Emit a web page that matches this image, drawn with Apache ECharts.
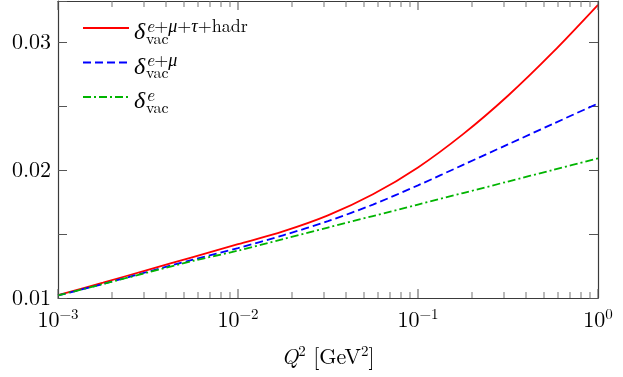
<!DOCTYPE html>
<html><head><meta charset="utf-8">
<script src="https://cdn.jsdelivr.net/npm/echarts@6/dist/echarts.min.js"></script>
<style>html,body{margin:0;padding:0;background:#fff}#c{width:623px;height:377px}</style>
</head><body><div id="c"></div>
<script>
// ---- data ----
const q2 = [0.001, 0.00178, 0.00316, 0.00562, 0.01, 0.0178, 0.0316, 0.0562, 0.1, 0.178, 0.316, 0.562, 1];
const deltaAll = [0.01022, 0.0112, 0.0122, 0.0132, 0.0142, 0.0152, 0.01645, 0.0181, 0.0202, 0.0228, 0.0258, 0.0292, 0.0329];
const deltaEMu = [0.0102, 0.0111, 0.01205, 0.0130, 0.0139, 0.0149, 0.0160, 0.0173, 0.0188, 0.0204, 0.0220, 0.0236, 0.0252];
const deltaE   = [0.0102, 0.0111, 0.0120, 0.0129, 0.0137, 0.0146, 0.0155, 0.0164, 0.0173, 0.0182, 0.0191, 0.0200, 0.0209];
const seriesNames = ['all', 'emu', 'e'];
const supTexts = {all: ['e', '+', 'μ', '+', 'τ', '+', 'hadr'], emu: ['e', '+', 'μ'], e: ['e']};
const xMajorTicks = [0.001, 0.01, 0.1, 1];
const xMinorTicks = [0.002,0.003,0.004,0.005,0.006,0.007,0.008,0.009,
                     0.02,0.03,0.04,0.05,0.06,0.07,0.08,0.09,
                     0.2,0.3,0.4,0.5,0.6,0.7,0.8,0.9];
const yMin = 0.01, yMax = 0.0332, yStep = 0.005;
const yLabelValues = [0.01, 0.02, 0.03];

const FONT = "'Latin Modern Roman','Liberation Serif',serif";
const chart = echarts.init(document.getElementById('c'), null, {renderer: 'canvas'});
const frame = {show: true, onZero: false, lineStyle: {color: '#3a3a3a', width: 1.2}};
const majorTick = {show: true, inside: true, length: 9, lineStyle: {color: '#555', width: 1}};

function supRich(name) {
  const parts = supTexts[name];
  const isItalic = t => !(t === '+' || t === 'hadr');
  return parts.map(t => (isItalic(t) ? '{si|' : '{sr|') + t + '}').join('');
}
function legendLabel(name) {
  return '{g|}' + supRich(name) + '\n{d|δ}{sub|vac}';
}
function xLabel(v) {
  return '{b|10}{s|' + String(Math.round(Math.log10(v))).replace('-', '−') + '}';
}

const colors = {all: '#ff0000', emu: '#0000ff', e: '#00b400'};
const dashes = {all: 'solid', emu: [8, 4], e: [8, 3, 2, 3]};
const dataSets = {all: deltaAll, emu: deltaEMu, e: deltaE};

const lineSeries = seriesNames.map(n => ({
  name: n, type: 'line', xAxisIndex: 0, yAxisIndex: 0,
  symbol: 'none', smooth: 0.3,
  lineStyle: {color: colors[n], width: 1.8, type: dashes[n]},
  itemStyle: {color: colors[n]},
  data: q2.map((x, i) => [x, dataSets[n][i]])
}));

// x-axis ticks (bottom and top, pointing inward) placed through the log scale
function tickSeries(values, len, color) {
  return {
    type: 'custom', xAxisIndex: 0, yAxisIndex: 0, z: 10,
    data: values.map(v => [v, yMin]),
    renderItem: (params, api) => {
      const b = api.coord([api.value(0), yMin]);
      const t = api.coord([api.value(0), yMax]);
      return {type: 'group', children: [
        {type: 'rect', shape: {x: Math.round(b[0]) - 0.5, y: b[1] - len, width: 1, height: len}, style: {fill: color}},
        {type: 'rect', shape: {x: Math.round(t[0]) - 0.5, y: t[1], width: 1, height: len}, style: {fill: color}}
      ]};
    }
  };
}

const option = {
  animation: false,
  backgroundColor: '#fff',
  grid: {left: 58, right: 25, top: 1, bottom: 79},
  legend: {
    left: 82, top: 1, padding: 0, orient: 'vertical', itemWidth: 46, itemHeight: 14, itemGap: -12.5,
    data: seriesNames,
    formatter: legendLabel,
    itemStyle: {color: 'rgba(0,0,0,0)', borderWidth: 0, opacity: 0},
    textStyle: {
      fontFamily: FONT, color: '#000',
      rich: {
        g: {width: 12, lineHeight: 12},
        si: {fontFamily: FONT, fontStyle: 'italic', fontSize: 18, lineHeight: 12, padding: [16, 0, 0, 0]},
        sr: {fontFamily: FONT, fontSize: 18, lineHeight: 12, padding: [16, 0, 0, 0]},
        d: {fontFamily: FONT, fontStyle: 'italic', fontSize: 24, width: 12, lineHeight: 20, padding: [0, 0, 4, 0]},
        sub: {fontFamily: FONT, fontSize: 16, lineHeight: 20, padding: [10, 0, 0, 0]}
      }
    }
  },
  xAxis: [
    {type: 'log', position: 'bottom', min: 0.001, max: 1,
     axisLine: frame, axisTick: {show: false}, splitLine: {show: false},
     axisLabel: {margin: 10, fontFamily: FONT, color: '#000',
       formatter: xLabel,
       rich: {b: {fontFamily: FONT, fontSize: 22, lineHeight: 24},
              s: {fontFamily: FONT, fontSize: 15, lineHeight: 24, padding: [0, 0, 12, 0]}}},
     name: '{qi|Q}{s|2} [GeV{s|2}]', nameLocation: 'middle', nameGap: 47,
     nameTextStyle: {fontFamily: FONT, color: '#000', fontSize: 22, verticalAlign: 'top',
       rich: {qi: {fontFamily: FONT, fontStyle: 'italic', fontSize: 22, lineHeight: 24},
              s: {fontFamily: FONT, fontSize: 15, lineHeight: 24, padding: [0, 0, 12, 0]}}}},
    {type: 'log', position: 'top', min: 0.001, max: 1,
     axisLine: frame, axisTick: {show: false}, axisLabel: {show: false}, splitLine: {show: false}}
  ],
  yAxis: [
    {type: 'value', position: 'left', min: yMin, max: yMax, interval: yStep,
     axisLine: frame, axisTick: majorTick, splitLine: {show: false},
     axisLabel: {margin: 7, fontFamily: FONT, fontSize: 22, color: '#000',
       formatter: v => yLabelValues.some(t => Math.abs(t - v) < 1e-9) ? v.toFixed(2) : ''}},
    {type: 'value', position: 'right', min: yMin, max: yMax, interval: yStep,
     axisLine: frame, axisTick: majorTick, splitLine: {show: false}, axisLabel: {show: false}}
  ],
  series: lineSeries.concat([tickSeries(xMajorTicks, 9, '#555'), tickSeries(xMinorTicks, 6, '#777')])
};
chart.setOption(option);
</script></body></html>
